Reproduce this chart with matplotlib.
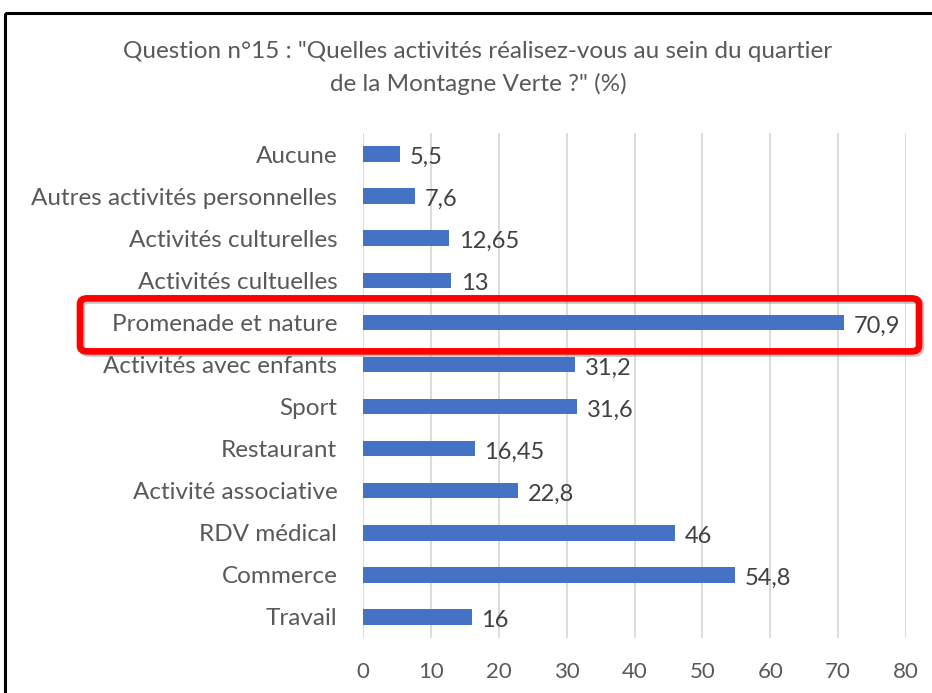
import matplotlib
matplotlib.use("Agg")
import matplotlib.pyplot as plt
from matplotlib.patches import Rectangle, FancyBboxPatch

categories = ["Aucune", "Autres activités personnelles", "Activités culturelles",
              "Activités cultuelles", "Promenade et nature", "Activités avec enfants",
              "Sport", "Restaurant", "Activité associative", "RDV médical",
              "Commerce", "Travail"]
values = [5.5, 7.6, 12.65, 13, 70.9, 31.2, 31.6, 16.45, 22.8, 46, 54.8, 16]
xticks = [0, 10, 20, 30, 40, 50, 60, 70, 80]
title = 'Question n°15 : "Quelles activités réalisez-vous au sein du quartier\nde la Montagne Verte ?" (%)'
highlight = "Promenade et nature"

plt.rcParams['font.family'] = ['Lato', 'DejaVu Sans']

W, H = 932, 693
fig = plt.figure(figsize=(W / 100, H / 100), dpi=100)
fig.patch.set_facecolor('white')

def fx(px):
    return px / W

def fy(py):
    return 1 - py / H

ax = fig.add_axes([fx(363), fy(638), fx(906) - fx(363), fy(133) - fy(638)])
n = len(categories)
ypos = list(range(n))
ax.barh(ypos, values, height=0.37, color='#4472C4', zorder=3)
ax.set_ylim(n - 0.5, -0.5)
ax.set_xlim(0, 80)
ax.set_xticks(xticks)
ax.set_xticklabels([str(t) for t in xticks])
ax.set_yticks(ypos)
ax.set_yticklabels(categories)
ax.grid(axis='x', color='#D9D9D9', linewidth=1.3, zorder=0)
for s in ax.spines.values():
    s.set_visible(False)
ax.tick_params(axis='both', length=0, labelcolor='#595959')
ax.tick_params(axis='y', labelsize=17.5, pad=18.5)
ax.tick_params(axis='x', labelsize=16, pad=17)

for y, v in zip(ypos, values):
    ax.annotate(f"{v:g}".replace('.', ','), (v, y), xytext=(7, -2.5),
                textcoords='offset points', va='center', ha='left',
                fontsize=17, color='#404040')

fig.text(fx(478), fy(68), title, ha='center', va='center', fontsize=17.5,
         color='#595959', linespacing=1.62)

# outer border
fig.patches.append(Rectangle((fx(5), fy(13)), 1.2, -1.2, transform=fig.transFigure,
                             fill=False, edgecolor='black', linewidth=2.2, clip_on=False))

# red highlight box
hi = categories.index(highlight)
yc_px = 133 + (hi + 0.5) * (505 / n)
x0, x1 = 80, 919
y0, y1 = yc_px - 24, yc_px + 29
shadow = FancyBboxPatch((fx(x0) + 0.002, fy(y1) - 0.003), fx(x1) - fx(x0), fy(y0) - fy(y1),
                        boxstyle="round,pad=0,rounding_size=0.008",
                        transform=fig.transFigure, fill=False, edgecolor='#888888',
                        linewidth=4.8, alpha=0.5, zorder=9)
box = FancyBboxPatch((fx(x0), fy(y1)), fx(x1) - fx(x0), fy(y0) - fy(y1),
                     boxstyle="round,pad=0,rounding_size=0.008",
                     transform=fig.transFigure, fill=False, edgecolor='#FF0000',
                     linewidth=4.8, zorder=10)
fig.patches.append(shadow)
fig.patches.append(box)

fig.savefig("out.png", dpi=100)
